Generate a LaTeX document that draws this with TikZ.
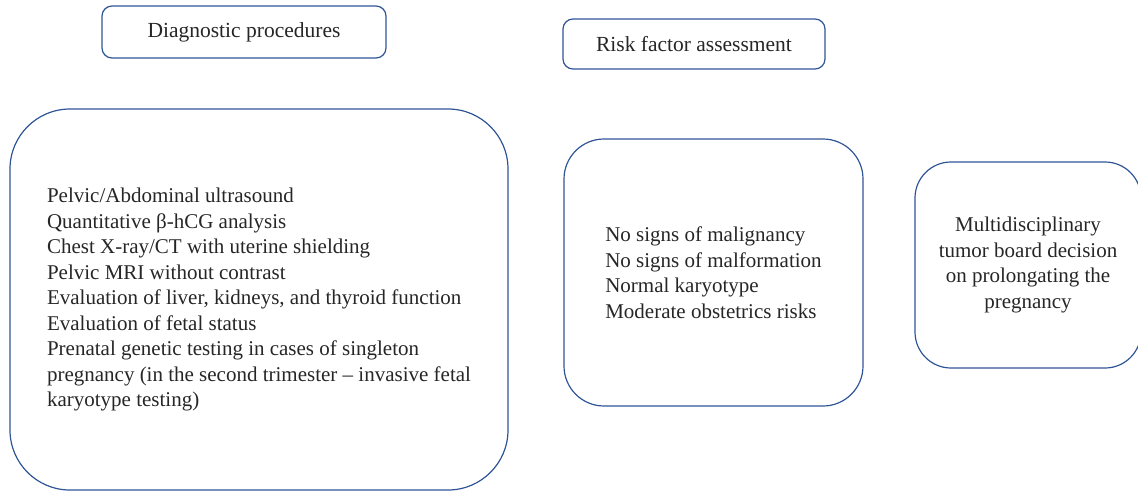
\documentclass[tikz,border=0pt]{standalone}
\usepackage{fontspec}
\setmainfont{Liberation Serif}
\usepackage{tikz}
\definecolor{boxblue}{RGB}{47,85,151}

\begin{document}
\begin{tikzpicture}[x=1pt, y=-1pt,
        box/.style={draw=boxblue, line width=1.2pt, inner sep=0pt, align=left,
                    font=\fontsize{21}{25.5}\selectfont, text=black!85},
        headbox/.style={box, rounded corners=10pt, font=\fontsize{21.5}{25}\selectfont}]
        \clip (0,0) rectangle (1138,491);

        % headings
        \node[headbox, minimum width=284pt, minimum height=52pt] (diag) at (244,32) {Diagnostic procedures};
        \node[headbox, minimum width=262pt, minimum height=50pt] (risk) at (694,44) {Risk factor assessment};

        % contents
        \node[box, rounded corners=60pt, minimum width=498pt, minimum height=381pt] (proc) at (259,299.5)
            {Pelvic/Abdominal ultrasound\\
             Quantitative β-hCG analysis\\
             Chest X-ray/CT with uterine shielding\\
             Pelvic MRI without contrast\\
             Evaluation of liver, kidneys, and thyroid function\\
             Evaluation of fetal status\\
             Prenatal genetic testing in cases of singleton\\
             pregnancy (in the second trimester -- invasive fetal\\
             karyotype testing)};
        \node[box, rounded corners=40pt, minimum width=299pt, minimum height=267pt] (signs) at (713.5,272.5)
            {No signs of malignancy\\
             No signs of malformation\\
             Normal karyotype\\
             Moderate obstetrics risks};
        \node[box, align=center, rounded corners=36pt, minimum width=226pt, minimum height=206pt] (board) at (1028,265)
            {Multidisciplinary\\
             tumor board decision\\
             on prolongating the\\
             pregnancy};
\end{tikzpicture}
\end{document}
